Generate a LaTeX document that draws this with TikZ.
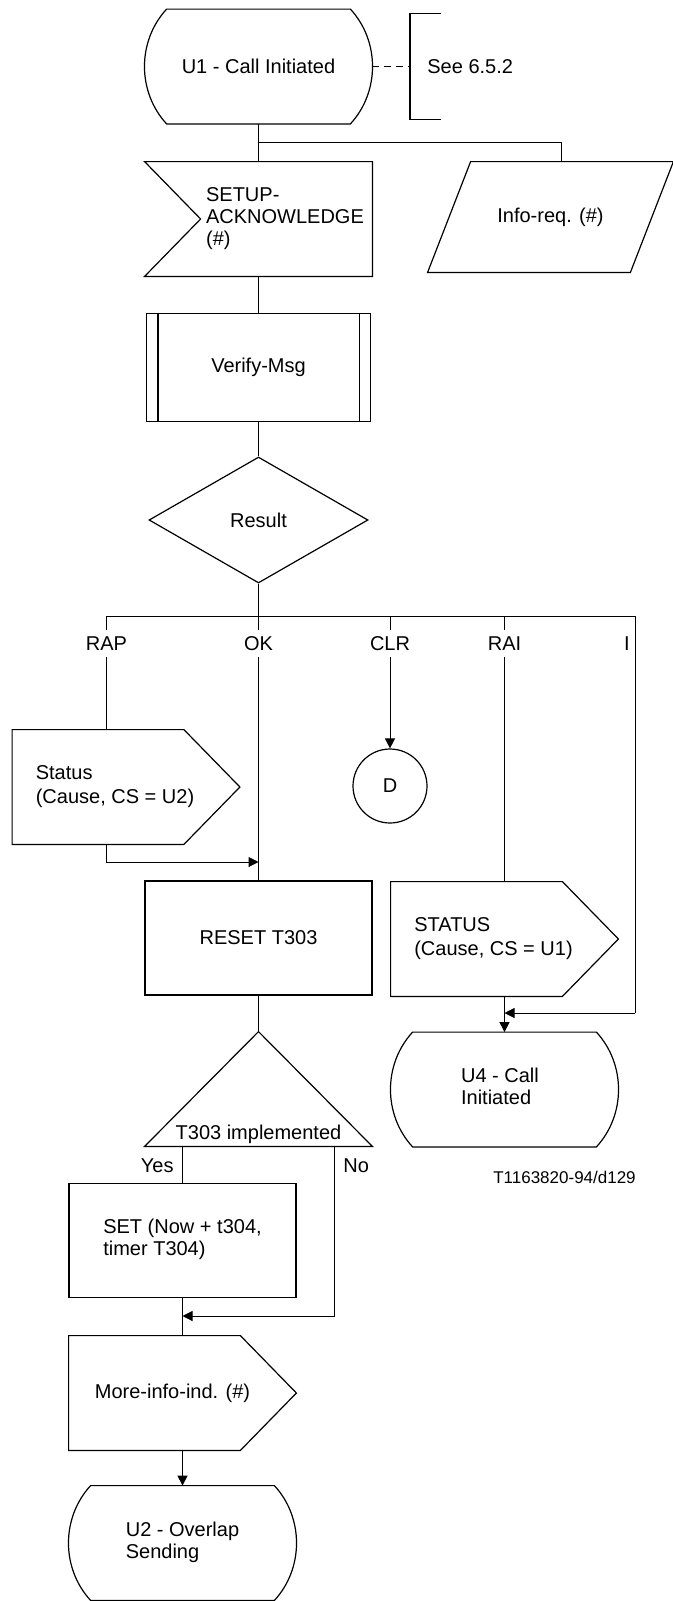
\documentclass[tikz,border=0pt]{standalone}
\usepackage{fontspec}
\setmainfont{Liberation Sans}
\usetikzlibrary{arrows.meta,positioning,calc,shapes.geometric}
% left-aligned block of lines inside a symbol
\newcommand{\txtlines}[1]{\begin{tabular}{@{}l@{}}#1\end{tabular}}
\tikzset{
  shp/.style={line width=0.6pt},
  ln/.style={line width=0.5pt},
  arr/.style={ln,-{Triangle[length=5pt,width=5pt]}},
  blk/.style={rectangle,inner sep=0pt,minimum width=113.5pt,minimum height=57pt},
  taskbox/.style={blk,draw,shp},
  procbox/.style={blk,draw,shp,minimum width=112pt,minimum height=54.25pt},
  decbox/.style={diamond,draw,shp,inner sep=0pt,minimum width=109.5pt,minimum height=63pt},
  conbox/.style={circle,draw,shp,inner sep=0pt,minimum size=37pt},
  brlbl/.style={inner xsep=1.5pt,inner ysep=3.15pt,text height=7.2pt,text depth=0pt},
}

\begin{document}
\begin{tikzpicture}[x=0.5pt,y=-0.5pt,font=\fontsize{10}{11}\selectfont]
  \useasboundingbox (0,0) rectangle (673,1601);
  \node[blk] (u1) at (258.5,66.5) {U1 - Call Initiated};
  \node[blk,anchor=west,minimum width=0pt,minimum height=52.5pt,inner xsep=8.5pt] (note) at (410,66.5) {See 6.5.2};
  \node[blk] (setup) at (258.5,219) {\hspace*{26.5pt}\txtlines{SETUP-\\ACKNOWLEDGE\\(\#)}};
  \node[blk,minimum width=122.5pt,minimum height=55pt] (inforeq) at (550.5,217) {Info-req. (\#)};
  \node[procbox] (verify) at (258.5,367.5) {Verify-Msg};
  \node[decbox] (result) at (258.5,520) {Result};
  \coordinate (sp1) at (258.5,142);
  \coordinate (br) at (258.5,616);
  \coordinate (ibr) at (635,616);
  \node[brlbl] (rap) at (106.5,643.5) {RAP};
  \node[brlbl] (ok) at (258.5,643.5) {OK};
  \node[brlbl] (clr) at (390,643.5) {CLR};
  \node[brlbl] (rai) at (504.5,643.5) {RAI};
  \node[brlbl] (il) at (627,643.5) {I};
  \node[blk] (status2) at (126,787) {\hspace*{-11pt}\txtlines{Status\\[1pt](Cause, CS = U2)}};
  \node[conbox] (d) at (390,786) {D};
  \coordinate (retc) at (258.5,862);
  \node[taskbox] (reset) at (258.5,938) {RESET T303};
  \node[blk] (status1) at (504.5,939) {\hspace*{-11pt}\txtlines{STATUS\\[1pt](Cause, CS = U1)}};
  \coordinate (ijoin) at (635,1013);
  \node[blk] (u4) at (504.5,1089.5) {\hspace*{-4.5pt}\txtlines{U4 - Call\\Initiated}};
  \node[blk,text height=53.5pt,text depth=3.5pt] (t303) at (258.5,1089) {T303 implemented};
  \node[inner sep=0pt,anchor=east] (yes) at (174,1166) {Yes};
  \node[inner sep=0pt,anchor=west] (no) at (343,1166) {No};
  \node[inner sep=0pt,font=\fontsize{8.5}{10}\selectfont] (refid) at (564.5,1177) {T1163820-94/d129};
  \node[taskbox] (set) at (182.5,1240.5) {\txtlines{SET (Now + t304,\\timer T304)}};
  \coordinate (nojoin) at (334,1316);
  \node[blk] (moreinfo) at (182.5,1393) {\hspace*{-10pt}More-info-ind. (\#)};
  \node[blk] (u2) at (182.5,1543) {\txtlines{U2 - Overlap\\Sending}};

  % outlines of the symbols
  \foreach \n in {u1,u4,u2}
    \draw[shp] ([xshift=11pt]\n.north west) -- ([xshift=-11pt]\n.north east)
      .. controls ([xshift=3.75pt,yshift=-16pt]\n.north east)
      and ([xshift=3.75pt,yshift=16pt]\n.south east) .. ([xshift=-11pt]\n.south east)
      -- ([xshift=11pt]\n.south west)
      .. controls ([xshift=-3.75pt,yshift=16pt]\n.south west)
      and ([xshift=-3.75pt,yshift=-16pt]\n.north west) .. ([xshift=11pt]\n.north west) -- cycle;
  \foreach \n in {status2,status1,moreinfo}
    \draw[shp] (\n.north west) -- ([xshift=-28pt]\n.north east) -- (\n.east)
      -- ([xshift=-28pt]\n.south east) -- (\n.south west) -- cycle;
  \draw[shp] (setup.north west) -- (setup.north east) -- (setup.south east)
    -- (setup.south west) -- ([xshift=28pt]setup.west) -- cycle;
  \draw[shp] (inforeq.south west) -- ([xshift=-21.5pt]inforeq.south east)
    -- (inforeq.north east) -- ([xshift=21.5pt]inforeq.north west) -- cycle;
  \draw[shp] ([xshift=6pt]verify.north west) -- ([xshift=6pt]verify.south west)
    ([xshift=-6pt]verify.north east) -- ([xshift=-6pt]verify.south east);
  \draw[shp] (t303.south west) -- (t303.north) -- (t303.south east) -- cycle;
  \draw[shp] ([xshift=15.5pt]note.north west) -- (note.north west)
    -- (note.south west) -- ([xshift=15.5pt]note.south west);

  % connectors
  \draw[ln] (u1) -- (setup);
  \draw[ln] (sp1) -| ([xshift=5.25pt]inforeq.north);
  \draw[ln,dash pattern=on 3.5pt off 2.5pt] (u1) -- (note);
  \draw[ln] (setup) -- (verify);
  \draw[ln] (verify) -- (result);
  \draw[ln] (result) -- (br) -- (ok) -- (reset);
  \draw[ln] (rap) |- (ibr) -- (ijoin);
  \draw[ln] (clr) -- (clr |- br);
  \draw[ln] (rai) -- (rai |- br);
  \draw[ln] (rap) -- (rap |- status2.north);
  \draw[arr] (rap |- status2.south) |- (retc);
  \draw[arr] (clr) -- (d);
  \draw[ln] (rai) -- (status1);
  \draw[arr] (status1) -- (u4);
  \draw[arr] (ijoin) -- (ijoin -| u4.north);
  \draw[ln] (reset) -- (t303);
  \draw[ln] (set.north |- t303.south) -- (set);
  \draw[arr] (nojoin |- t303.south) |- (nojoin -| set.south);
  \draw[ln] (set) -- (moreinfo);
  \draw[arr] (moreinfo) -- (u2);
\end{tikzpicture}
\end{document}
